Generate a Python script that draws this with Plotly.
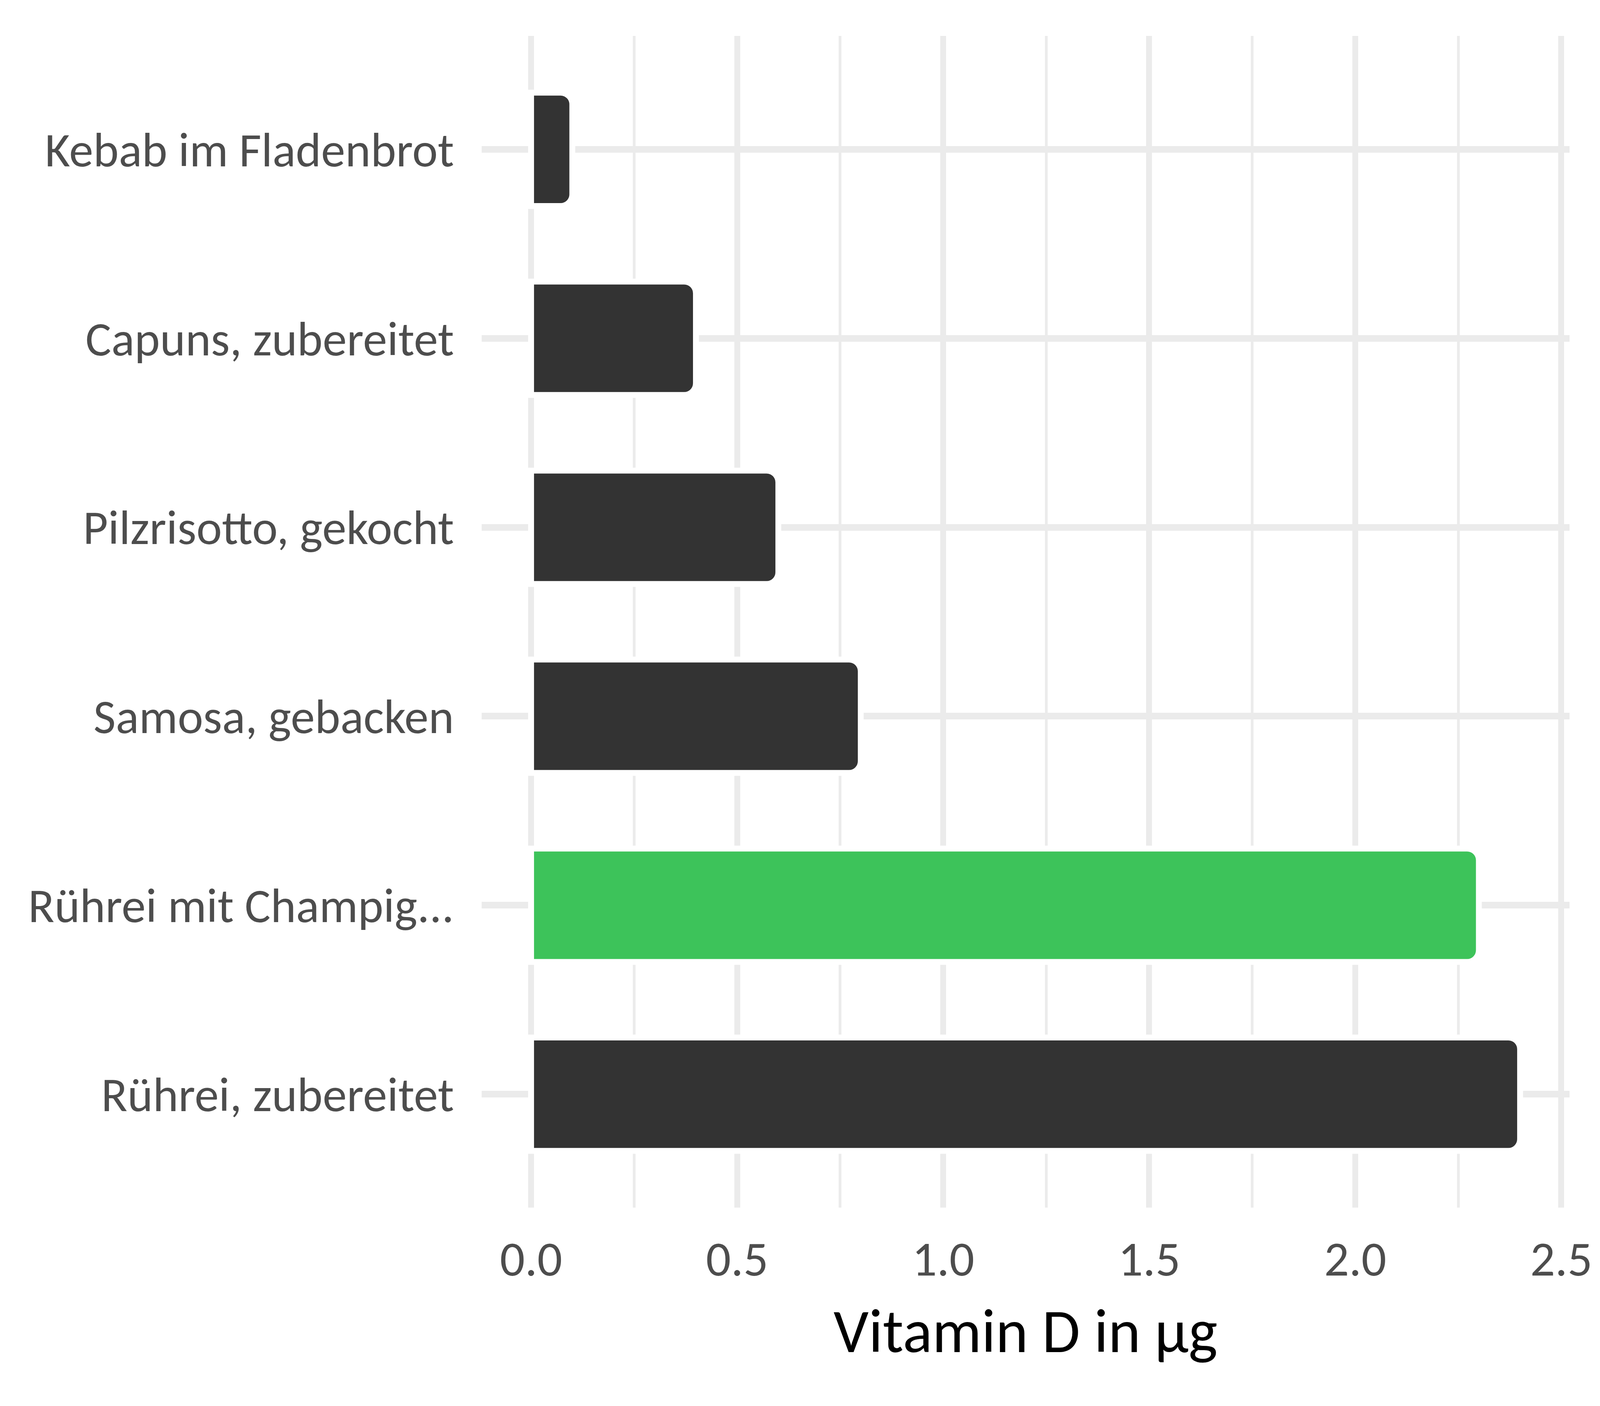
import plotly.graph_objects as go

# Data (top to bottom as shown)
categories = ["Kebab im Fladenbrot", "Capuns, zubereitet", "Pilzrisotto, gekocht",
              "Samosa, gebacken", "Rührei mit Champig...", "Rührei, zubereitet"]
values = [0.1, 0.4, 0.6, 0.8, 2.3, 2.4]
colors = ["#333333", "#333333", "#333333", "#333333", "#3DC35A", "#333333"]
x_tickvals = [0.0, 0.5, 1.0, 1.5, 2.0, 2.5]
x_ticktext = ["0.0", "0.5", "1.0", "1.5", "2.0", "2.5"]

FONT = "Carlito, Lato, sans-serif"
GRID = "#EBEBEB"

fig = go.Figure()
fig.add_trace(go.Bar(
    x=values, y=categories, orientation="h",
    width=0.6,
    marker=dict(color=colors, line=dict(color="white", width=15), cornerradius=30),
    showlegend=False,
))

# The browser viewport is 4096 CSS px wide (8 px body margin), so size to fit it
fig.update_layout(
    width=4080, height=3584,
    margin=dict(l=1225, r=70, t=84, b=500),
    paper_bgcolor="white", plot_bgcolor="white",
    font=dict(family=FONT, color="#4D4D4D", size=124),
)
fig.update_xaxes(
    range=[-0.12, 2.52],
    tickvals=x_tickvals, ticktext=x_ticktext,
    showgrid=True, gridcolor=GRID, gridwidth=15,
    minor=dict(dtick=0.25, tick0=0, showgrid=True, gridcolor=GRID, gridwidth=7),
    zeroline=False, showline=False,
    ticks="outside", ticklen=22, tickcolor="rgba(0,0,0,0)",
    tickfont=dict(family=FONT, color="#4D4D4D", size=126),
    title=dict(text="Vitamin D in µg", font=dict(family=FONT, color="black", size=158), standoff=52),
)
fig.update_yaxes(
    categoryorder="array", categoryarray=categories,
    range=[5.6, -0.6],
    showgrid=True, gridcolor=GRID, gridwidth=17,
    zeroline=False, showline=False,
    ticks="outside", ticklen=45, tickcolor="rgba(0,0,0,0)",
    tickfont=dict(family=FONT, color="#4D4D4D", size=124),
)

fig.write_html("out.html")
